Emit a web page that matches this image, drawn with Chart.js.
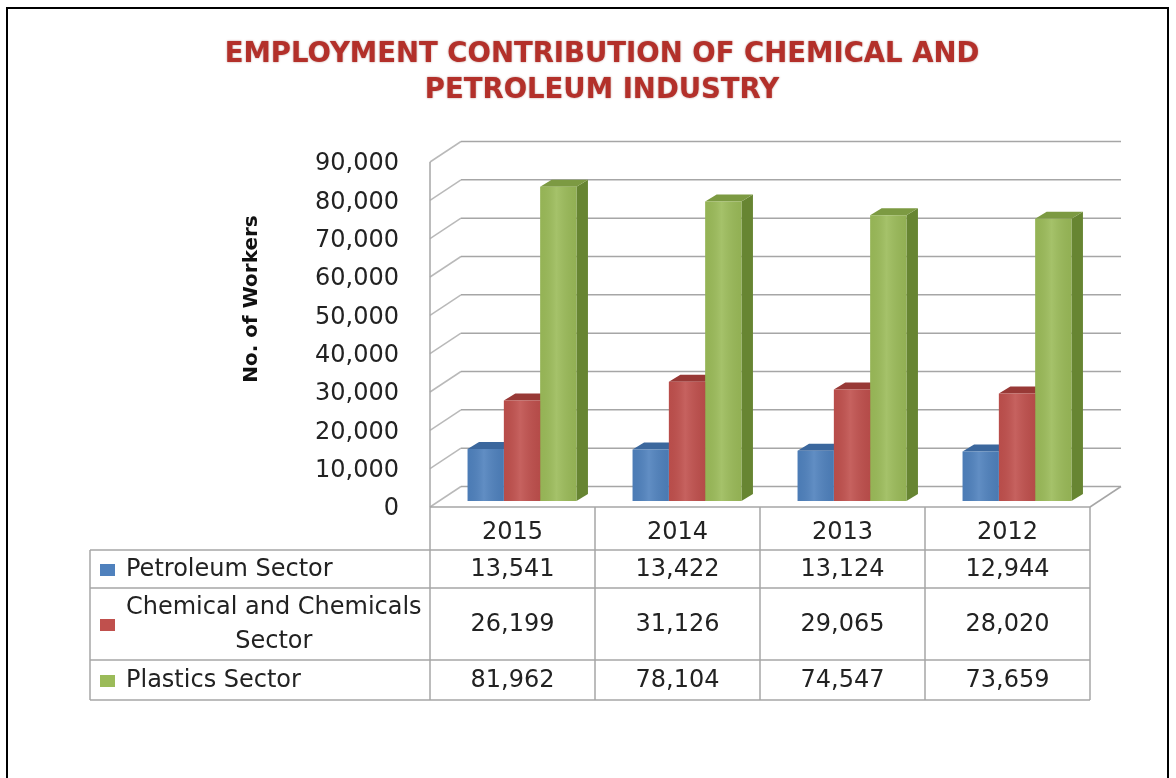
<!DOCTYPE html>
<html>
<head>
<meta charset="utf-8">
<script src="https://cdn.jsdelivr.net/npm/chart.js@4.4.0/dist/chart.umd.min.js"></script>
<style>
  html, body { margin: 0; padding: 0; background: #ffffff; }
  canvas { display: block; }
</style>
</head>
<body>
<canvas id="chart" width="1176" height="778"></canvas>
<script>
// ---- data ----
const years = ['2015', '2014', '2013', '2012'];
const petroleum = [13541, 13422, 13124, 12944];
const chemicals = [26199, 31126, 29065, 28020];
const plastics = [81962, 78104, 74547, 73659];
const seriesNames = ['Petroleum Sector', 'Chemical and Chemicals Sector', 'Plastics Sector'];
const seriesLegendLines = [['Petroleum Sector'], ['Chemical and Chemicals', 'Sector'], ['Plastics Sector']];
const yTickValues = [0, 10000, 20000, 30000, 40000, 50000, 60000, 70000, 80000, 90000];
const titleLines = ['EMPLOYMENT CONTRIBUTION OF CHEMICAL AND', 'PETROLEUM INDUSTRY'];
const axisTitle = 'No. of Workers';

// ---- style ----
const frontColors = ['#4F81BD', '#C0504D', '#9BBB59'];
const topColors = ['#3b679d', '#983936', '#7c9a42'];
const sideColors = ['#375c89', '#8a3734', '#678532'];
const WALL_DX = 31, WALL_DY = -20.5;   // depth of the floor / side wall
const BAR_OX = 9.5, BAR_OY = -6;       // bars sit part way back in the depth
const BAR_DX = 11.5, BAR_DY = -7;      // depth of each bar
const FONT = '"DejaVu Sans", "Liberation Sans", sans-serif';
const TEXT_COLOR = '#222222';
const GRID_COLOR = '#a6a6a6';

const fmt = v => v.toLocaleString('en-US');

function line(ctx, x1, y1, x2, y2) {
  ctx.beginPath(); ctx.moveTo(x1, y1); ctx.lineTo(x2, y2); ctx.stroke();
}
function poly(ctx, pts) {
  ctx.beginPath();
  ctx.moveTo(pts[0][0], pts[0][1]);
  for (let i = 1; i < pts.length; i++) ctx.lineTo(pts[i][0], pts[i][1]);
  ctx.closePath(); ctx.fill();
}

// Draws the 3D walls, bar tops/sides, axis text and the data table
const scene3d = {
  id: 'scene3d',
  beforeDatasetsDraw(chart) {
    const { ctx, chartArea: a, scales: { y } } = chart;
    ctx.save();
    ctx.lineWidth = 1.5;
    // side wall diagonals and back wall grid lines
    yTickValues.forEach(v => {
      const py = y.getPixelForValue(v);
      ctx.strokeStyle = '#b9b9b9';
      line(ctx, a.left, py, a.left + WALL_DX, py + WALL_DY);
      ctx.strokeStyle = GRID_COLOR;
      line(ctx, a.left + WALL_DX, py + WALL_DY, a.right + WALL_DX, py + WALL_DY);
    });
    ctx.strokeStyle = GRID_COLOR;
    // floor front edge and right edge
    const py0 = y.getPixelForValue(0);
    line(ctx, a.left, py0, a.right, py0);
    line(ctx, a.right, py0, a.right + WALL_DX, py0 + WALL_DY);
    // front vertical axis
    line(ctx, a.left, y.getPixelForValue(yTickValues[yTickValues.length - 1]), a.left, py0);
    ctx.restore();

    // bars: side and top faces first, the library draws the fronts over them
    ctx.save();
    ctx.translate(BAR_OX, BAR_OY);
    chart.data.datasets.forEach((ds, i) => {
      chart.getDatasetMeta(i).data.forEach(bar => {
        const p = bar.getProps(['x', 'y', 'base', 'width'], true);
        const l = p.x - p.width / 2, r = p.x + p.width / 2;
        ctx.fillStyle = sideColors[i];
        poly(ctx, [[r, p.y], [r + BAR_DX, p.y + BAR_DY], [r + BAR_DX, p.base + BAR_DY], [r, p.base]]);
        ctx.fillStyle = topColors[i];
        poly(ctx, [[l, p.y], [l + BAR_DX, p.y + BAR_DY], [r + BAR_DX, p.y + BAR_DY], [r, p.y]]);
      });
    });
    // keep the translation while the library draws the bar fronts
  },
  afterDatasetsDraw(chart) {
    const { ctx, scales: { x, y } } = chart;
    // soft sheen across each bar front (still in the bar translation)
    chart.data.datasets.forEach((ds, i) => {
      chart.getDatasetMeta(i).data.forEach(bar => {
        const p = bar.getProps(['x', 'y', 'base', 'width'], true);
        const l = p.x - p.width / 2, r = p.x + p.width / 2;
        const g = ctx.createLinearGradient(l, 0, r, 0);
        g.addColorStop(0, 'rgba(0,0,0,0.04)');
        g.addColorStop(0.45, 'rgba(255,255,255,0.10)');
        g.addColorStop(1, 'rgba(0,0,0,0.06)');
        ctx.fillStyle = g;
        ctx.fillRect(l, p.y, r - l, p.base - p.y);
      });
    });
    ctx.restore();
    ctx.save();

    // outer frame
    ctx.strokeStyle = '#000000';
    ctx.lineWidth = 2;
    ctx.strokeRect(7, 8, 1161, 800);

    // title
    ctx.font = 'bold 27.5px ' + FONT;
    ctx.textAlign = 'center';
    ctx.textBaseline = 'middle';
    ctx.fillStyle = '#b3302a';
    ctx.shadowColor = 'rgba(110, 15, 10, 0.5)';
    ctx.shadowBlur = 2;
    ctx.fillText(titleLines[0], 602, 55);
    ctx.fillText(titleLines[1], 602, 91);
    ctx.shadowBlur = 0;
    ctx.shadowColor = 'transparent';

    // y tick labels
    ctx.font = '24px ' + FONT;
    ctx.fillStyle = TEXT_COLOR;
    ctx.textAlign = 'right';
    yTickValues.forEach(v => {
      ctx.fillText(fmt(v), 399, y.getPixelForValue(v) + 2);
    });

    // y axis title
    ctx.save();
    ctx.translate(252, 299);
    ctx.rotate(-Math.PI / 2);
    ctx.font = 'bold 20px ' + FONT;
    ctx.textAlign = 'center';
    ctx.fillStyle = '#111111';
    ctx.fillText(axisTitle, 0, 0);
    ctx.restore();

    // data table
    const colW = (x.right - x.left) / years.length;
    const tableLeft = 90;
    const rowLines = [550, 588, 660, 700];
    const headerY = 533;
    const py0 = y.getPixelForValue(0);
    ctx.strokeStyle = GRID_COLOR;
    ctx.lineWidth = 1.5;
    rowLines.forEach(ry => line(ctx, tableLeft, ry, x.right, ry));
    line(ctx, tableLeft, rowLines[0], tableLeft, rowLines[rowLines.length - 1]);
    for (let i = 0; i <= years.length; i++) {
      const cx = x.left + i * colW;
      line(ctx, cx, py0, cx, rowLines[rowLines.length - 1]);
    }

    ctx.font = '24px ' + FONT;
    ctx.fillStyle = TEXT_COLOR;
    ctx.textAlign = 'center';
    years.forEach((yr, i) => ctx.fillText(yr, x.getPixelForValue(i), headerY));

    chart.data.datasets.forEach((ds, s) => {
      const top = rowLines[s], bottom = rowLines[s + 1];
      const mid = (top + bottom) / 2 + 1;
      // values
      ctx.fillStyle = TEXT_COLOR;
      ctx.textAlign = 'center';
      ds.data.forEach((v, i) => ctx.fillText(fmt(v), x.getPixelForValue(i), mid));
      // legend key
      ctx.fillStyle = frontColors[s];
      ctx.fillRect(100, mid - 6, 15, 12);
      // series name
      const lines = seriesLegendLines[s];
      const lh = 34;
      const widest = Math.max(...lines.map(t => ctx.measureText(t).width));
      const cxText = 126 + widest / 2;
      ctx.fillStyle = TEXT_COLOR;
      lines.forEach((t, k) => {
        ctx.fillText(t, cxText, mid + (k - (lines.length - 1) / 2) * lh);
      });
    });
    ctx.restore();
  }
};

new Chart(document.getElementById('chart'), {
  type: 'bar',
  data: {
    labels: years,
    datasets: [
      { label: seriesNames[0], data: petroleum, backgroundColor: frontColors[0] },
      { label: seriesNames[1], data: chemicals, backgroundColor: frontColors[1] },
      { label: seriesNames[2], data: plastics, backgroundColor: frontColors[2] }
    ]
  },
  options: {
    responsive: false,
    animation: false,
    devicePixelRatio: 1,
    layout: { padding: { left: 430, right: 86, top: 162, bottom: 271 } },
    datasets: { bar: { categoryPercentage: 0.66, barPercentage: 1.0, borderWidth: 0, clip: false } },
    scales: {
      x: { display: false, offset: true },
      y: { display: false, min: yTickValues[0], max: yTickValues[yTickValues.length - 1], ticks: { stepSize: 10000 } }
    },
    plugins: {
      legend: { display: false },
      tooltip: { enabled: false },
      title: { display: false }
    }
  },
  plugins: [scene3d]
});
</script>
</body>
</html>
